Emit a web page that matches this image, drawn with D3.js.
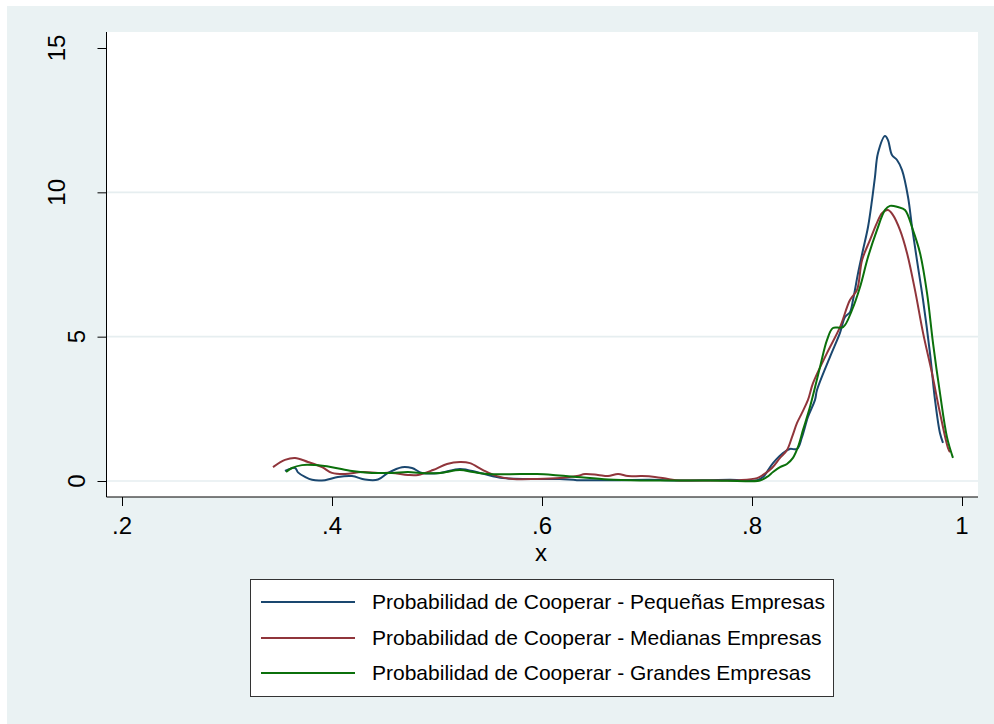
<!DOCTYPE html>
<html>
<head>
<meta charset="utf-8">
<script src="https://cdn.jsdelivr.net/npm/d3@7/dist/d3.min.js"></script>
<style>
  html, body { margin: 0; padding: 0; background: #ffffff; }
  svg { display: block; }
  text { font-family: "Liberation Sans", Arial, sans-serif; fill: #000; }
</style>
</head>
<body>
<svg id="chart" width="994" height="724"></svg>
<script>
// Kernel density estimates of the probability of cooperating, by firm size
const seriesNames = [
  "Probabilidad de Cooperar - Pequeñas Empresas",
  "Probabilidad de Cooperar - Medianas Empresas",
  "Probabilidad de Cooperar - Grandes Empresas"
];
const seriesColors = ["#1a476f", "#90353b", "#0b700b"];

const xTicks = [0.2, 0.4, 0.6, 0.8, 1];
const xTickLabels = [".2", ".4", ".6", ".8", "1"];
const yTicks = [0, 5, 10, 15];
const yTickLabels = ["0", "5", "10", "15"];
const yGrid = [0, 5, 10];

const pequenas = [
  [0.3552, 0.35], [0.3648, 0.45], [0.3676, 0.30], [0.3743, 0.14], [0.3810, 0.04],
  [0.3933, 0.03], [0.4057, 0.14], [0.4190, 0.17], [0.4314, 0.05], [0.4438, 0.05],
  [0.4533, 0.28], [0.4667, 0.48], [0.4762, 0.45], [0.4857, 0.28], [0.5029, 0.28],
  [0.5219, 0.42], [0.5410, 0.28], [0.5629, 0.10], [0.5886, 0.07], [0.6171, 0.07],
  [0.6333, 0.03], [0.6550, 0.03], [0.6740, 0.03], [0.7030, 0.04], [0.7310, 0.02],
  [0.7600, 0.03], [0.7790, 0.04], [0.8050, 0.03], [0.8105, 0.14], [0.8200, 0.62],
  [0.8295, 0.97], [0.8360, 1.11], [0.8429, 1.11], [0.8476, 1.52], [0.8533, 2.22],
  [0.8600, 2.81], [0.8619, 3.15], [0.8743, 4.30], [0.8838, 5.13], [0.8886, 5.68],
  [0.8933, 5.85], [0.8962, 6.27], [0.9010, 7.20], [0.9057, 8.00], [0.9105, 8.80],
  [0.9143, 9.73], [0.9171, 10.53], [0.9200, 11.36], [0.9267, 11.95], [0.9295, 11.81],
  [0.9333, 11.29], [0.9381, 11.12], [0.9429, 10.77], [0.9486, 9.84], [0.9524, 8.80],
  [0.9571, 7.65], [0.9629, 6.27], [0.9695, 4.43], [0.9743, 2.81], [0.9790, 1.66],
  [0.9819, 1.32]
];

const medianas = [
  [0.3438, 0.48], [0.3552, 0.73], [0.3648, 0.80], [0.3771, 0.66], [0.3905, 0.48],
  [0.4000, 0.28], [0.4124, 0.24], [0.4286, 0.31], [0.4438, 0.28], [0.4571, 0.28],
  [0.4724, 0.21], [0.4819, 0.21], [0.4962, 0.38], [0.5095, 0.59], [0.5219, 0.66],
  [0.5314, 0.62], [0.5438, 0.38], [0.5571, 0.17], [0.5724, 0.07], [0.5952, 0.07],
  [0.6171, 0.10], [0.6333, 0.17], [0.6410, 0.24], [0.6533, 0.21], [0.6629, 0.17],
  [0.6724, 0.24], [0.6819, 0.17], [0.6952, 0.17], [0.7076, 0.14], [0.7200, 0.07],
  [0.7314, 0.02], [0.7600, 0.02], [0.7886, 0.03], [0.8048, 0.10], [0.8105, 0.21],
  [0.8190, 0.45], [0.8267, 0.80], [0.8333, 1.07], [0.8381, 1.52], [0.8429, 2.01],
  [0.8476, 2.36], [0.8533, 2.81], [0.8581, 3.39], [0.8714, 4.43], [0.8838, 5.33],
  [0.8933, 6.27], [0.9000, 6.62], [0.9048, 7.65], [0.9124, 8.35], [0.9190, 8.94],
  [0.9238, 9.28], [0.9295, 9.39], [0.9343, 9.21], [0.9410, 8.69], [0.9476, 7.90],
  [0.9552, 6.62], [0.9629, 5.13], [0.9714, 3.74], [0.9790, 2.36], [0.9867, 1.14],
  [0.9886, 1.00]
];

const grandes = [
  [0.3562, 0.31], [0.3619, 0.45], [0.3714, 0.55], [0.3838, 0.55], [0.4000, 0.48],
  [0.4190, 0.35], [0.4381, 0.28], [0.4571, 0.28], [0.4724, 0.31], [0.4838, 0.28],
  [0.5029, 0.28], [0.5219, 0.38], [0.5343, 0.31], [0.5476, 0.24], [0.5790, 0.24],
  [0.5952, 0.24], [0.6105, 0.21], [0.6333, 0.14], [0.6629, 0.05], [0.6952, 0.02],
  [0.7267, 0.02], [0.7600, 0.02], [0.8076, 0.02], [0.8143, 0.14], [0.8200, 0.31],
  [0.8267, 0.48], [0.8333, 0.59], [0.8390, 0.80], [0.8438, 1.18], [0.8486, 1.77],
  [0.8552, 2.56], [0.8648, 3.95], [0.8714, 4.88], [0.8771, 5.30], [0.8867, 5.33],
  [0.8952, 5.92], [0.9029, 6.72], [0.9105, 7.76], [0.9190, 8.69], [0.9267, 9.39],
  [0.9314, 9.53], [0.9390, 9.49], [0.9457, 9.39], [0.9533, 8.69], [0.9600, 7.90],
  [0.9667, 6.51], [0.9724, 4.78], [0.9790, 3.05], [0.9857, 1.52], [0.9914, 0.80]
];

const seriesData = [pequenas, medianas, grandes];

const svg = d3.select("#chart");
const W = 994, H = 724;

// Graph region background
svg.append("rect").attr("x", 7).attr("y", 6).attr("width", W - 7).attr("height", H - 6)
  .attr("fill", "#eaf2f3");

// Plot region
const plot = { left: 106.5, right: 978, top: 32, bottom: 497 };
svg.append("rect")
  .attr("x", plot.left).attr("y", plot.top)
  .attr("width", plot.right - plot.left).attr("height", plot.bottom - plot.top)
  .attr("fill", "#ffffff");

const x = d3.scaleLinear().domain([0.2, 1]).range([122, 962]);
const y = d3.scaleLinear().domain([0, 15]).range([481, 48]);

// Horizontal grid lines
svg.append("g").selectAll("line").data(yGrid).join("line")
  .attr("x1", plot.left).attr("x2", plot.right)
  .attr("y1", d => y(d)).attr("y2", d => y(d))
  .attr("stroke", "#e6eef0").attr("stroke-width", 1.6);

// Density curves
const line = d3.line()
  .x(d => x(d[0])).y(d => y(d[1]))
  .curve(d3.curveCatmullRom.alpha(0.5));

svg.append("g").selectAll("path").data(seriesData).join("path")
  .attr("d", line)
  .attr("fill", "none")
  .attr("stroke", (d, i) => seriesColors[i])
  .attr("stroke-width", 2)
  .attr("stroke-linejoin", "round");

// Y axis
const yAxis = d3.axisLeft(y).tickValues(yTicks).tickSize(9).tickFormat("");
const gy = svg.append("g").attr("transform", `translate(${plot.left},0)`).call(yAxis);
gy.select(".domain").attr("d", `M0,${plot.top}V${plot.bottom}`).attr("stroke", "#000");
gy.selectAll(".tick line").attr("stroke", "#000");
svg.append("g").selectAll("text").data(yTicks).join("text")
  .attr("transform", (d, i) => {
    const cx = 97 - 20.5 * yTickLabels[i].length;
    return `translate(${cx},${y(d)}) rotate(-90)`;
  })
  .attr("text-anchor", "middle")
  .attr("dominant-baseline", "central")
  .attr("font-size", 24)
  .text((d, i) => yTickLabels[i]);

// X axis
const xAxis = d3.axisBottom(x).tickValues(xTicks).tickSize(9).tickFormat("");
const gx = svg.append("g").attr("transform", `translate(0,${plot.bottom})`).call(xAxis);
gx.select(".domain").attr("d", `M${plot.left},0H${plot.right}`).attr("stroke", "#000");
gx.selectAll(".tick line").attr("stroke", "#000");
svg.append("g").selectAll("text").data(xTicks).join("text")
  .attr("x", d => x(d)).attr("y", 534)
  .attr("text-anchor", "middle")
  .attr("font-size", 24)
  .text((d, i) => xTickLabels[i]);

svg.append("text")
  .attr("x", 541).attr("y", 561)
  .attr("text-anchor", "middle")
  .attr("font-size", 24)
  .text("x");

// Legend
const legend = svg.append("g");
legend.append("rect")
  .attr("x", 250.5).attr("y", 579.5).attr("width", 583).attr("height", 117)
  .attr("fill", "#ffffff").attr("stroke", "#333").attr("stroke-width", 1);
const rowY = [602, 638, 673];
seriesNames.forEach((name, i) => {
  legend.append("line")
    .attr("x1", 261).attr("x2", 355).attr("y1", rowY[i]).attr("y2", rowY[i])
    .attr("stroke", seriesColors[i]).attr("stroke-width", 2);
  legend.append("text")
    .attr("x", 372).attr("y", rowY[i] + 7)
    .attr("font-size", 21)
    .text(name);
});
</script>
</body>
</html>
